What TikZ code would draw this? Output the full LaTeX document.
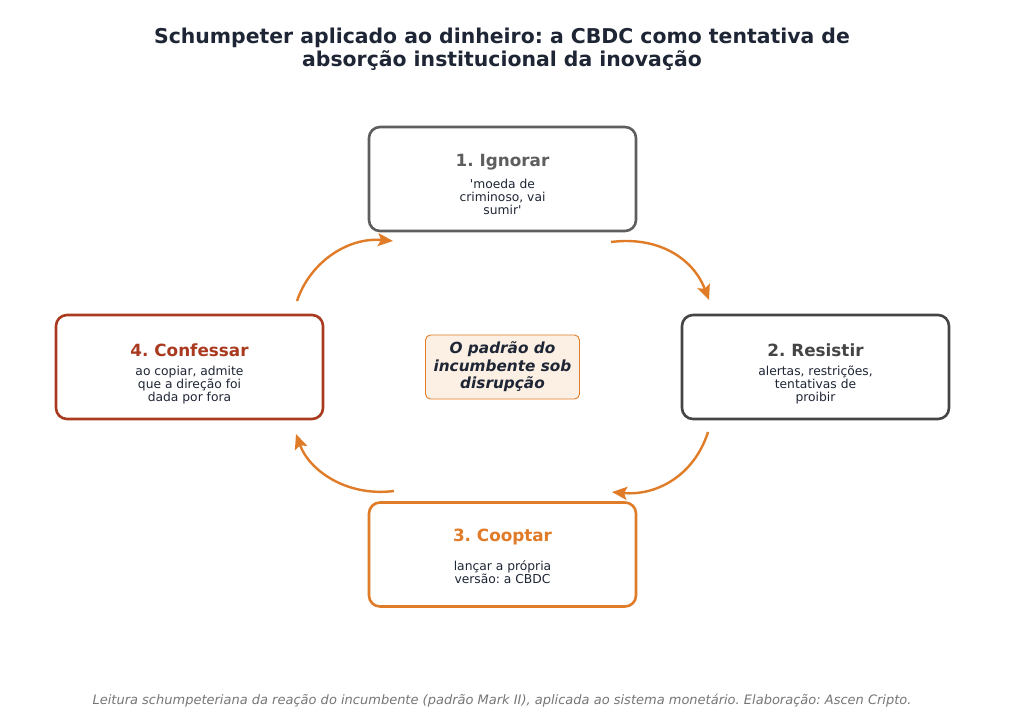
\documentclass[tikz,border=0pt]{standalone}
\usepackage{fontspec}
\setmainfont{DejaVu Sans}
\usetikzlibrary{arrows.meta,positioning}
\definecolor{navy}{HTML}{1E2535}
\definecolor{grayA}{HTML}{5E5E5E}
\definecolor{grayB}{HTML}{454545}
\definecolor{orng}{HTML}{E07B27}
\definecolor{rust}{HTML}{A93A1F}
\definecolor{cream}{HTML}{FBF0E3}
\definecolor{foot}{HTML}{767676}
\frenchspacing
\begin{document}
\begin{tikzpicture}[x=1pt,y=-1pt,
    stage/.style={draw,line width=2.6pt,rounded corners=11pt,fill=white,minimum width=267pt,minimum height=104pt},
    stagetitle/.style={font=\bfseries\fontsize{16.8}{19}\selectfont},
    stagetext/.style={text=navy,align=center,font=\fontsize{12.3}{13}\selectfont},
    flow/.style={draw=orng,line width=2.4pt,-{Stealth[length=15pt,width=13pt,inset=3pt]}}]
\useasboundingbox (0,0) rectangle (1030,720);
% title
\node[text=navy,align=center,font=\bfseries\fontsize{20.4}{23}\selectfont] (title) at (502,49) {Schumpeter aplicado ao dinheiro: a CBDC como tentativa de\\absorção institucional da inovação};
% the four stages
\node[stage,draw=grayA] (ignorar) at (502.5,179) {};
\node[stage,draw=grayB] (resistir) at (815.5,367) {};
\node[stage,draw=orng] (cooptar) at (502.5,554.5) {};
\node[stage,draw=rust] (confessar) at (189.5,367) {};
\node[stagetitle,text=grayA] (ignorarT) at ([yshift=17pt]ignorar.center) {1. Ignorar};
\node[stagetext] (ignorarS) at ([yshift=-18pt]ignorar.center) {\textquotesingle moeda de\\criminoso, vai\\sumir\textquotesingle};
\node[stagetitle,text=grayB] (resistirT) at ([yshift=17pt]resistir.center) {2. Resistir};
\node[stagetext] (resistirS) at ([yshift=-18pt]resistir.center) {alertas, restrições,\\tentativas de\\proibir};
\node[stagetitle,text=orng] (cooptarT) at ([yshift=17pt]cooptar.center) {3. Cooptar};
\node[stagetext] (cooptarS) at ([yshift=-18pt]cooptar.center) {lançar a própria\\versão: a CBDC};
\node[stagetitle,text=rust] (confessarT) at ([yshift=17pt]confessar.center) {4. Confessar};
\node[stagetext] (confessarS) at ([yshift=-18pt]confessar.center) {ao copiar, admite\\que a direção foi\\dada por fora};
% centre
\node[draw=orng,line width=0.9pt,fill=cream,rounded corners=5pt,minimum width=154pt,minimum height=64pt,text=navy,align=center,font=\bfseries\itshape\fontsize{15.3}{17.5}\selectfont] (padrao) at (502.5,367) {O padrão do\\incumbente sob\\disrupção};
% arrow ends
\coordinate (a1) at (611,242);  \coordinate (a2) at (709,300);
\coordinate (b1) at (708,432);  \coordinate (b2) at (612,492);
\coordinate (c1) at (394,491);  \coordinate (c2) at (296,434);
\coordinate (d1) at (297,301);  \coordinate (d2) at (393,241);
\draw[flow] (a1) .. controls (658,236) and (693,258) .. (a2);
\draw[flow] (b1) .. controls (694,476) and (656,496) .. (b2);
\draw[flow] (c1) .. controls (346,497) and (309,470) .. (c2);
\draw[flow] (d1) .. controls (310,262) and (348,237) .. (d2);
% footer
\node[text=foot,font=\itshape\fontsize{13}{14}\selectfont] (fonte) at (502,701) {Leitura schumpeteriana da reação do incumbente (padrão Mark II), aplicada ao sistema monetário. Elaboração: Ascen Cripto.};
\end{tikzpicture}
\end{document}
